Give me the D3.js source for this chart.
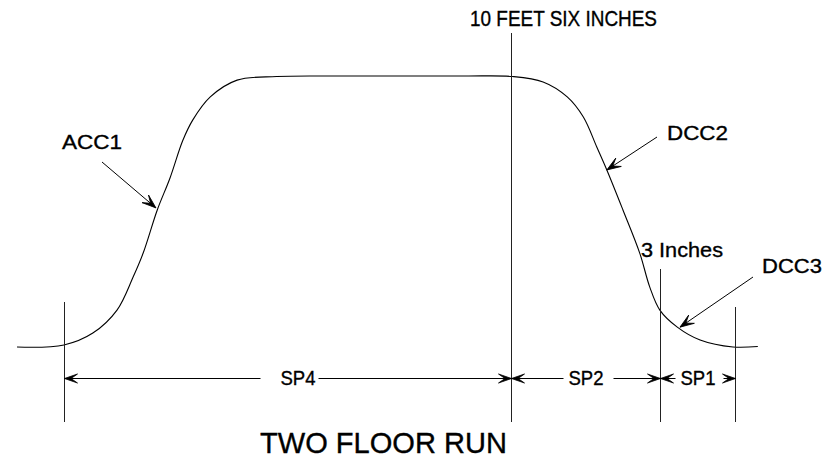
<!DOCTYPE html>
<html>
<head>
<meta charset="utf-8">
<script src="https://cdn.jsdelivr.net/npm/d3@7"></script>
<style>
    body { margin: 0; background: #fff; }
    svg text { font-family: "Liberation Sans", Arial, sans-serif; fill: #000; stroke: #000; stroke-width: 0.35px; }
</style>
</head>
<body>
<svg id="acetate" width="839" height="462"></svg>
<script>

// car position along the run (percent of run) and height above floor (feet)
var runPos = [-7.0, 0, 4.3, 7.9, 10.3, 11.8, 13.9, 15.8, 17.7, 19.2, 21.8, 25.8, 31.7, 40, 50, 60,
              66.8, 71.4, 75.0, 77.4, 79.4, 80.9, 83.3, 85.8, 87.3, 88.8, 91.4, 94.8, 99.7, 103.4];
var carHeight = [0, 0.08, 0.54, 1.43, 2.71, 3.64, 5.31, 6.55, 8.0, 8.8, 9.69, 10.34, 10.48, 10.5, 10.5, 10.5,
                 10.48, 10.27, 9.69, 8.91, 7.75, 6.86, 5.31, 3.64, 2.32, 1.43, 0.77, 0.27, 0, 0.02];

// dimension marks and the spans between them
var markPos = [0, 66.6, 88.8, 100];
var spanLabels = ["SP4", "SP2", "SP1"];

// curve callouts: label and the point on the curve it points at
var calloutText = ["ACC1", "DCC2", "DCC3"];
var calloutPos = [13.7, 80.9, 91.8];
var calloutHeight = [5.39, 6.86, 0.77];

var topNote = "10 FEET SIX INCHES";
var slowNote = "3 Inches";
var title = "TWO FLOOR RUN";

var svg = d3.select("#acetate");

var x = d3.scaleLinear().domain([0, 100]).range([64, 735]);
var y = d3.scaleLinear().domain([0, 10.5]).range([347, 76]);

// layout (pixels)
var dimY = 378.5;
var markTop = [302, 33, 269, 307];
var markBottom = 422;
var spanShift = [10, 0, 0];
var calloutLayout = [
    {tx: 62, ty: 149, w: 60, fx: 102, fy: 162},
    {tx: 667, ty: 140, w: 61, fx: 657, fy: 137},
    {tx: 762, ty: 273, w: 60, fx: 753, fy: 277}
];

// barbed cad style arrow head, tip at (tx,ty) pointing along angle
function arrowHead(tx, ty, angle, len, half) {
    var notch = len * 0.5;
    svg.append("path")
        .attr("d", "M0,0L" + (-len) + "," + (-half) + "L" + (-notch) + ",0L" + (-len) + "," + half + "Z")
        .attr("transform", "translate(" + tx + "," + ty + ") rotate(" + (angle * 180 / Math.PI) + ")")
        .style("fill", "#000")
        .style("stroke", "#000")
        .style("stroke-width", 0.8);
}

// the travel curve
var pts = runPos.map(function (d, i) { return [d, carHeight[i]]; });
var line = d3.line()
    .x(function (d) { return x(d[0]); })
    .y(function (d) { return y(d[1]); })
    .curve(d3.curveCatmullRom.alpha(0.5));

svg.append("path")
    .datum(pts)
    .attr("d", line)
    .style("fill", "none")
    .style("stroke", "#000")
    .style("stroke-width", 1.1);

// vertical dimension marks
svg.selectAll(".mark").data(markPos).enter().append("line")
    .classed("mark", true)
    .attr("x1", function (d) { return Math.round(x(d)) + 0.5; })
    .attr("x2", function (d) { return Math.round(x(d)) + 0.5; })
    .attr("y1", function (d, i) { return markTop[i]; })
    .attr("y2", markBottom)
    .style("stroke", "#222")
    .style("stroke-width", 1)
    .style("shape-rendering", "crispEdges");

// dimension spans with labels breaking the line
spanLabels.forEach(function (lab, i) {
    var x0 = Math.round(x(markPos[i])) + 0.5;
    var x1 = Math.round(x(markPos[i + 1])) + 0.5;
    var cx = (x0 + x1) / 2 + spanShift[i];
    svg.append("text")
        .attr("x", cx)
        .attr("y", 385)
        .attr("text-anchor", "middle")
        .attr("textLength", 35)
        .attr("lengthAdjust", "spacingAndGlyphs")
        .style("font-size", "20px")
        .text(lab);
    var gapL = cx - 17.5 - (i == 0 ? 20 : 5);
    var gapR = cx + 17.5 + (i == 0 ? 3 : (i == 1 ? 10 : 8));
    svg.append("line")
        .attr("x1", x0).attr("x2", gapL)
        .attr("y1", dimY).attr("y2", dimY)
        .style("stroke", "#000").style("stroke-width", 1);
    svg.append("line")
        .attr("x1", gapR).attr("x2", x1)
        .attr("y1", dimY).attr("y2", dimY)
        .style("stroke", "#000").style("stroke-width", 1);
    arrowHead(x0, dimY, Math.PI, 13, 4.5);
    arrowHead(x1, dimY, 0, 13, 4.5);
});

// callouts
calloutText.forEach(function (lab, i) {
    var c = calloutLayout[i];
    svg.append("text")
        .attr("x", c.tx)
        .attr("y", c.ty)
        .attr("textLength", c.w)
        .attr("lengthAdjust", "spacingAndGlyphs")
        .style("font-size", "21px")
        .text(lab);
    var tx = x(calloutPos[i]);
    var ty = y(calloutHeight[i]);
    svg.append("line")
        .attr("x1", c.fx).attr("y1", c.fy)
        .attr("x2", tx).attr("y2", ty)
        .style("stroke", "#000").style("stroke-width", 1);
    arrowHead(tx, ty, Math.atan2(ty - c.fy, tx - c.fx), 14, 5);
});

// notes
svg.append("text")
    .attr("x", 470).attr("y", 26)
    .attr("textLength", 187)
    .attr("lengthAdjust", "spacingAndGlyphs")
    .style("font-size", "22px")
    .text(topNote);

svg.append("text")
    .attr("x", 641).attr("y", 257)
    .attr("textLength", 82)
    .attr("lengthAdjust", "spacingAndGlyphs")
    .style("font-size", "21px")
    .text(slowNote);

svg.append("text")
    .attr("x", 260).attr("y", 453)
    .attr("textLength", 247)
    .attr("lengthAdjust", "spacingAndGlyphs")
    .style("font-size", "29px")
    .text(title);

</script>
</body>
</html>
